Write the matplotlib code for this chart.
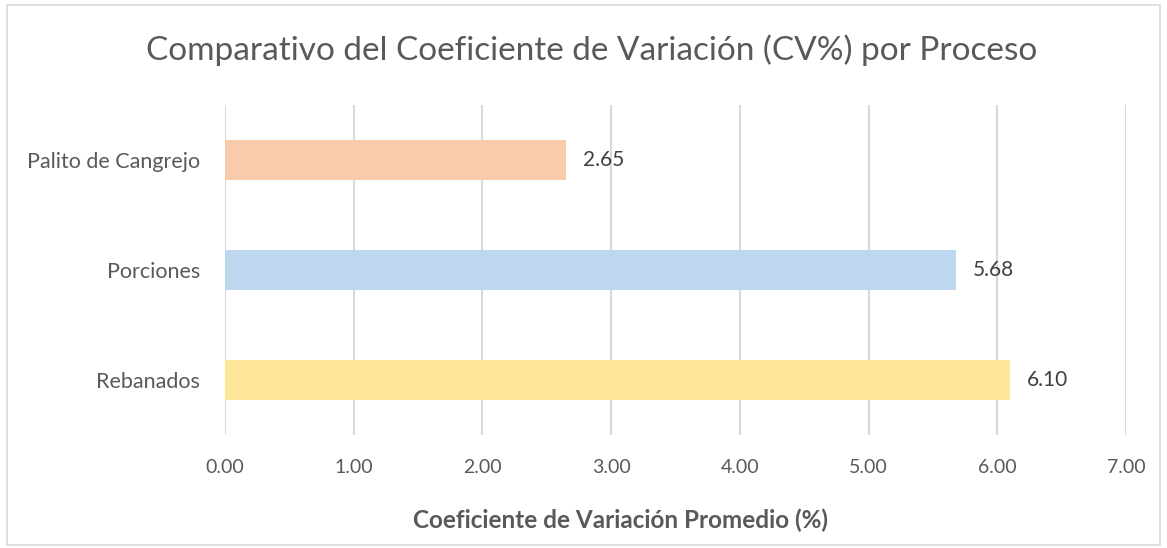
import matplotlib
matplotlib.use("Agg")
from matplotlib import pyplot as plt
from matplotlib.patches import Rectangle

procesos = ['Palito de Cangrejo', 'Porciones', 'Rebanados']
cv_promedio = [2.65, 5.68, 6.10]
colores = ['#F8CBAD', '#BDD7EE', '#FFE699']
ticks_x = [0, 1, 2, 3, 4, 5, 6, 7]

plt.rcParams['font.family'] = ['Lato', 'DejaVu Sans']

fig = plt.figure(figsize=(11.67, 5.48), dpi=100)
ax = fig.add_axes([0.1928, 0.2062, 0.7721, 0.6022])

y = list(range(len(procesos)))
ax.barh(y, cv_promedio, height=0.36, color=colores, zorder=3)
for yi, v in zip(y, cv_promedio):
    ax.text(v + 0.13, yi, f'{v:.2f}', va='center', ha='left',
            fontsize=15, color='#404040')

ax.set_xlim(0, 7)
ax.set_ylim(2.5, -0.5)
ax.set_yticks(y)
ax.set_yticklabels(procesos, fontsize=15.5, color='#595959')
ax.set_xticks(ticks_x)
ax.set_xticklabels([f'{t:.2f}' for t in ticks_x], fontsize=14, color='#595959')
ax.tick_params(axis='both', length=0)
ax.tick_params(axis='x', pad=17)
ax.tick_params(axis='y', pad=18)
ax.grid(axis='x', color='#D9D9D9', linewidth=1.5, zorder=0)
for s in ax.spines.values():
    s.set_visible(False)

fig.text(0.532, 0.051, 'Coeficiente de Variación Promedio (%)', fontsize=17.5,
         fontweight='bold', color='#595959', ha='center', va='center')

fig.text(0.507, 0.908, 'Comparativo del Coeficiente de Variación (CV%) por Proceso',
         ha='center', va='center', fontsize=24, color='#595959')

fig.patches.append(Rectangle((0.006, 0.005), 0.988, 0.985, transform=fig.transFigure,
                             fill=False, edgecolor='#D9D9D9', linewidth=1.2))

fig.savefig('out.png', dpi=100)
